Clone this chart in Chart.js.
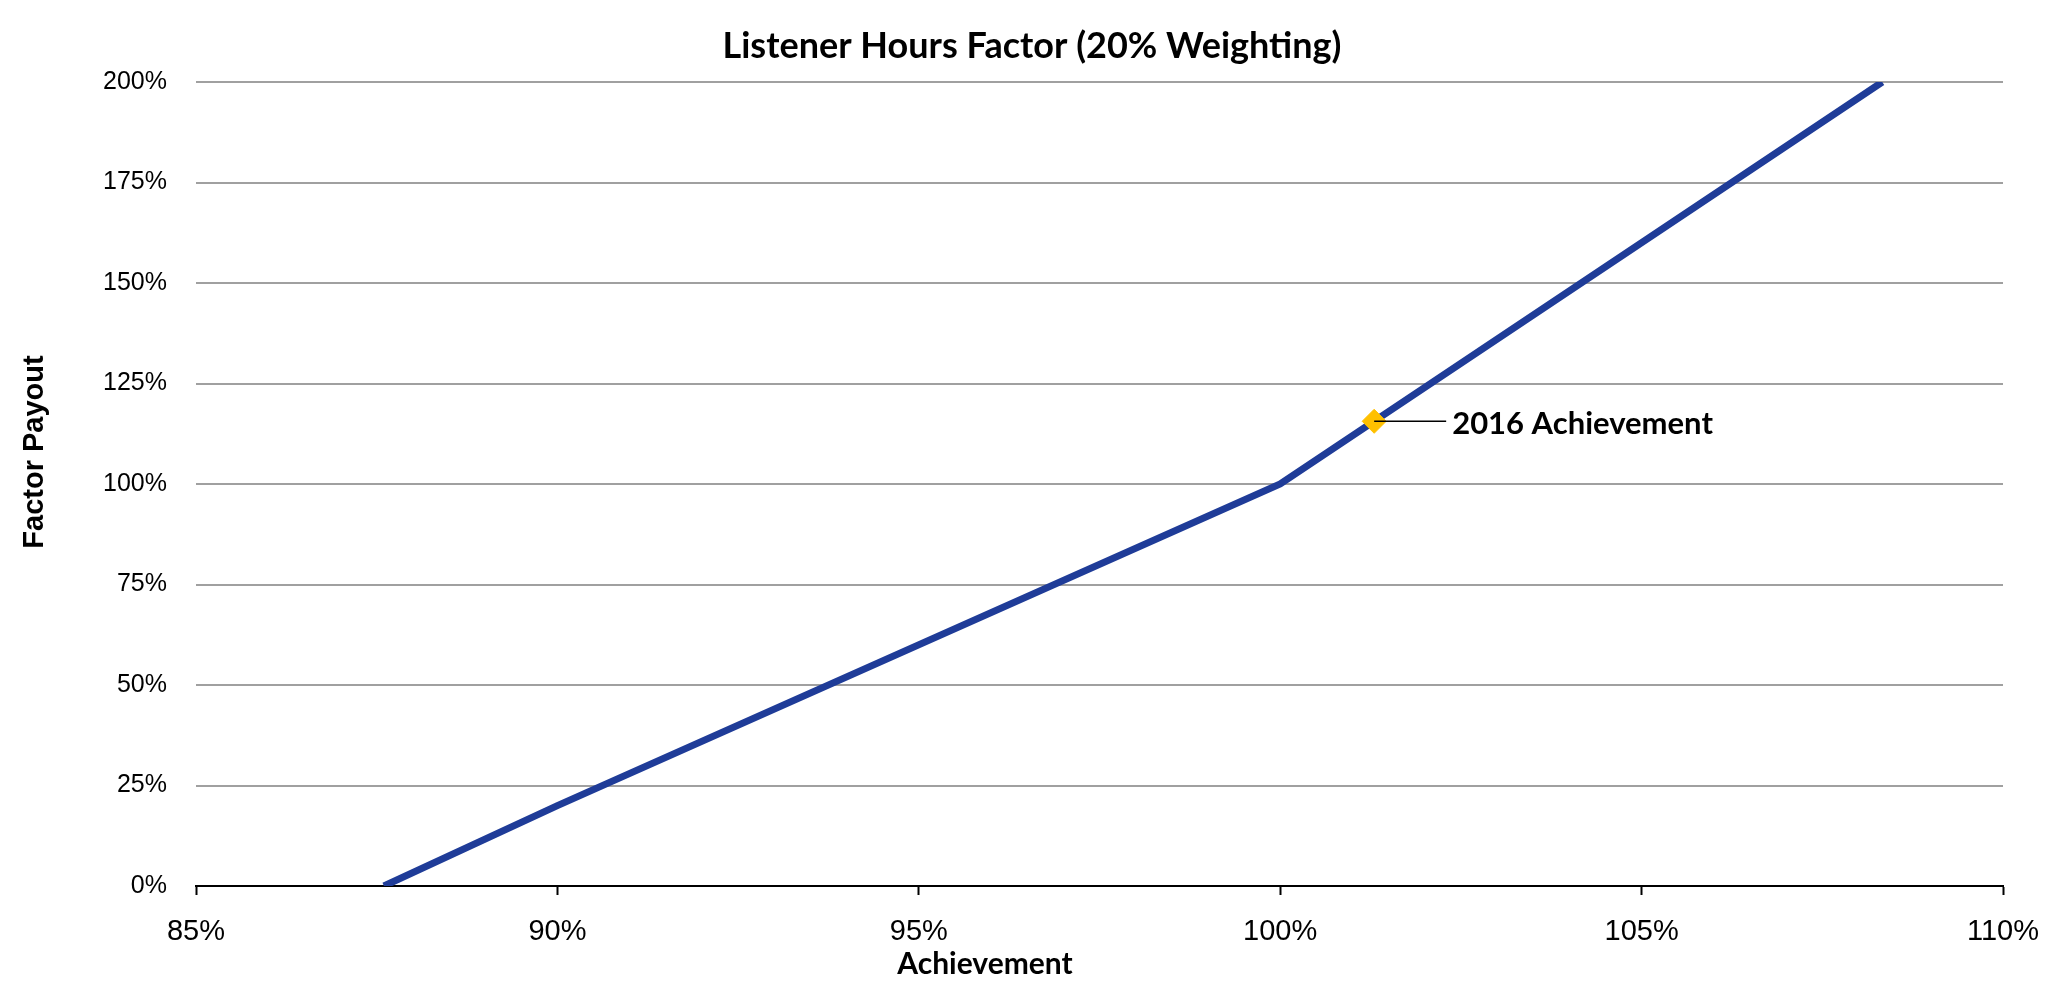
<!DOCTYPE html>
<html>
<head>
<meta charset="utf-8">
<script src="https://cdn.jsdelivr.net/npm/chart.js@4"></script>
<style>
  html, body { margin: 0; padding: 0; background: #fff; }
  #wrap { width: 2067px; height: 995px; }
</style>
</head>
<body>
<div id="wrap"><canvas id="factorChart"></canvas></div>
<script>
// achievement (%) vs factor payout (%)
const achievement = [87.6, 90, 100, 108.33];
const payout = [0, 20, 100, 200];
const actualPoint = { x: 101.3, y: 115.6 };
const actualLabel = '2016 Achievement';
const xTicks = [85, 90, 95, 100, 105, 110];
const yTicks = [0, 25, 50, 75, 100, 125, 150, 175, 200];

const labelPlugin = {
    id: 'labels',
    afterDraw(chart) {
        const c = chart.ctx;
        const xs = chart.scales.x, ys = chart.scales.y;
        c.save();
        c.fillStyle = '#000';
        // title
        c.font = 'bold 36px Lato';
        c.textAlign = 'center';
        c.textBaseline = 'middle';
        c.fillText('Listener Hours Factor (20% Weighting)', 1032, 46);
        // x axis title
        c.font = 'bold 30px Lato';
        c.fillText('Achievement', 985, 964);
        // y axis title
        c.save();
        c.translate(35, 452);
        c.rotate(-Math.PI / 2);
        c.font = 'bold 29px "Liberation Sans"';
        c.fillText('Factor Payout', 0, 0);
        c.restore();
        // callout
        const px = xs.getPixelForValue(actualPoint.x);
        const py = ys.getPixelForValue(actualPoint.y);
        c.strokeStyle = '#000';
        c.lineWidth = 1.5;
        c.beginPath();
        c.moveTo(px, py);
        c.lineTo(px + 72, py);
        c.stroke();
        c.font = 'bold 31px Lato';
        c.textAlign = 'left';
        c.fillText(actualLabel, px + 78, py + 3);
        c.restore();
    }
};

const chart = new Chart(document.getElementById('factorChart'), {
    type: 'line',
    data: {
        datasets: [
            {
                label: 'Payout',
                data: achievement.map((a, i) => ({ x: a, y: payout[i] })),
                borderColor: '#1F3C98',
                borderWidth: 7,
                pointRadius: 0,
                tension: 0,
                order: 2
            },
            {
                label: actualLabel,
                type: 'scatter',
                data: [actualPoint],
                pointStyle: 'rectRot',
                pointRadius: 12,
                backgroundColor: '#FFC000',
                borderColor: '#FFC000',
                order: 1
            }
        ]
    },
    options: {
        responsive: true,
        maintainAspectRatio: false,
        animation: false,
        layout: { padding: { left: 0, top: 82, right: 64, bottom: 0 } },
        plugins: {
            legend: { display: false },
            tooltip: { enabled: false }
        },
        scales: {
            x: {
                type: 'linear',
                min: 85,
                max: 110,
                afterFit(s) { s.height = 109; },
                afterBuildTicks(s) { s.ticks = xTicks.map(v => ({ value: v })); },
                grid: { drawOnChartArea: false, drawTicks: true, tickLength: 9, tickWidth: 2, tickColor: '#000' },
                border: { display: true, color: '#000', width: 2 },
                ticks: {
                    padding: 20,
                    color: '#000',
                    font: { family: '"Liberation Sans"', size: 29 },
                    callback: v => v + '%'
                }
            },
            y: {
                min: 0,
                max: 200,
                afterFit(s) { s.width = 196; },
                afterBuildTicks(s) { s.ticks = yTicks.map(v => ({ value: v })); },
                grid: { color: '#A0A0A0', lineWidth: 2, drawTicks: false },
                border: { display: false },
                ticks: {
                    padding: 29,
                    color: '#000',
                    font: { family: '"Liberation Sans"', size: 25 },
                    callback: v => v + '%'
                }
            }
        }
    },
    plugins: [labelPlugin]
});
</script>
</body>
</html>
